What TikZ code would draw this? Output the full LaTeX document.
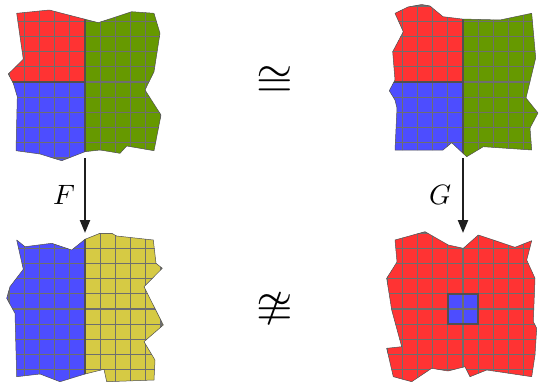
\documentclass[tikz,border=0pt]{standalone}
\usepackage{unicode-math}
\setmathfont{Latin Modern Math}
\usetikzlibrary{arrows.meta}
\definecolor{tred}{RGB}{255,51,51}
\definecolor{tgreen}{RGB}{102,153,0}
\definecolor{tblue}{RGB}{77,77,255}
\definecolor{tyellow}{RGB}{214,202,68}
\definecolor{gridgray}{RGB}{110,110,110}
\definecolor{edgegray}{RGB}{80,80,80}
% 10x10 grid of 15.2pt cells centred on (#1,#2)
\newcommand\tilegrid[2]{%
  \foreach \k in {-5,...,5}{%
    \draw[gridln] ({#1+15.2*\k},{#2-80}) -- ({#1+15.2*\k},{#2+80});
    \draw[gridln] ({#1-80},{#2+15.2*\k}) -- ({#1+80},{#2+15.2*\k});
  }}
\begin{document}
\begin{tikzpicture}[x=1pt,y=-1pt,
  gridln/.style={gridgray,line width=1.1pt},
  divider/.style={edgegray,line width=1.8pt},
  rim/.style={draw=edgegray,line width=0.5pt,line join=round},
  map/.style={line width=2.2pt,draw=black!88,-{Triangle[length=13pt,width=10pt]}},
  lbl/.style={inner sep=0pt,scale=2.8},
  rel/.style={inner sep=0pt,scale=4.7}]
\useasboundingbox (0,0) rectangle (539,383);

% outlines of the four patches
\def\tlpath{(16.7,13.3) -- (49.3,10) -- (98.3,22.7) -- (131.7,11.7) -- (154,13.3)
  -- (160,33.3) -- (154,71.7) -- (145,90) -- (161,115) -- (154,150.7)
  -- (126.7,146) -- (120,153.3) -- (100,150) -- (85,151.7) -- (61.7,160.7)
  -- (40,154) -- (16,150.7) -- (17.3,96.7) -- (13.3,83.3) -- (8.3,74)
  -- (23.3,59.3) -- cycle}
\def\trpath{(395,13.3) -- (408,7) -- (421.7,4.5) -- (430,6) -- (443,16.7)
  -- (462,19) -- (500,20) -- (531.7,13.3) -- (535.7,58) -- (526,98)
  -- (538,113) -- (530,128) -- (531.7,150) -- (483.3,146.7) -- (466.7,156.7)
  -- (451.7,142.7) -- (443,150) -- (395,150) -- (397,108) -- (395,100)
  -- (389.3,90.7) -- (395,80) -- (392.7,51.7) -- (403.3,31.7) -- cycle}
\def\blpath{(16.7,240) -- (25,246.7) -- (51.7,243.3) -- (71.7,250) -- (85,239.3)
  -- (100,233.3) -- (111.7,233.3) -- (116.7,236) -- (153.3,240) -- (156,263.3)
  -- (162.3,268.3) -- (144,286.7) -- (163.3,325) -- (144,341.7) -- (155,360)
  -- (154,380) -- (106.7,381.7) -- (104,369.3) -- (85,374) -- (60,381.7)
  -- (40,374) -- (16.7,376.7) -- (15,313.3) -- (6.7,298.3) -- (10,286.7)
  -- (23.3,269.3) -- cycle}
\def\brpath{(395,240) -- (425,231.7) -- (448.3,245) -- (463.3,248.3) -- (478.3,235)
  -- (493.3,240) -- (515,247.3) -- (531.7,240.7) -- (526.7,260) -- (535,278.3)
  -- (533.3,321.7) -- (536.7,328.3) -- (535,355) -- (531.7,376.7) -- (486.7,370)
  -- (470,376.7) -- (465,366.7) -- (448,371) -- (431.7,368.3) -- (411.7,381.7)
  -- (393.3,376.7) -- (386.7,348.3) -- (401.7,346.7) -- (391.7,310)
  -- (386.7,278.3) -- (397,262) -- cycle}

% top left: red / blue / green
\begin{scope}
  \clip \tlpath;
  \fill[tred] (0,0) rectangle (85,82);
  \fill[tblue] (0,82) rectangle (85,170);
  \fill[tgreen] (85,0) rectangle (170,170);
  \tilegrid{85}{82}
  \draw[divider] (85,0) -- (85,170);
  \draw[divider] (0,82) -- (85,82);
\end{scope}
\draw[rim] \tlpath;

% top right: red / blue / green
\begin{scope}
  \clip \trpath;
  \fill[tred] (380,0) rectangle (463,82);
  \fill[tblue] (380,82) rectangle (463,170);
  \fill[tgreen] (463,0) rectangle (539,170);
  \tilegrid{463}{82}
  \draw[divider] (463,0) -- (463,170);
  \draw[divider] (380,82) -- (463,82);
\end{scope}
\draw[rim] \trpath;

% bottom left: blue / yellow
\begin{scope}
  \clip \blpath;
  \fill[tblue] (0,225) rectangle (85,383);
  \fill[tyellow] (85,225) rectangle (170,383);
  \tilegrid{85}{309}
  \draw[divider] (85,225) -- (85,383);
\end{scope}
\draw[rim] \blpath;

% bottom right: red with a blue 2x2 block
\begin{scope}
  \clip \brpath;
  \fill[tred] (380,225) rectangle (539,383);
  \fill[tblue] (447.8,293.8) rectangle (478.2,324.2);
  \tilegrid{463}{309}
  \draw[divider] (447.8,293.8) rectangle (478.2,324.2);
\end{scope}
\draw[rim] \brpath;

% maps between the patches
\coordinate (fsrc) at (85,158);
\coordinate (fdst) at (85,233);
\coordinate (gsrc) at (463,158);
\coordinate (gdst) at (463,233);
\draw[map] (fsrc) -- (fdst);
\draw[map] (gsrc) -- (gdst);
\node[lbl] (flabel) at (64,195) {$F$};
\node[lbl] (glabel) at (440.5,195) {$G$};

% relations
\node[rel] (iso) at (274.3,80) {$≅$};
\node[rel] (noniso) at (274.3,309) {$≇$};
\end{tikzpicture}
\end{document}
